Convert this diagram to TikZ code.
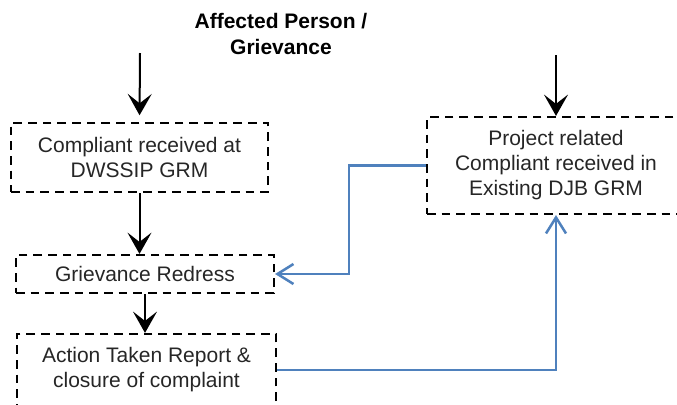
\documentclass[tikz,border=0pt]{standalone}
\usepackage{fontspec}
\setmainfont{Liberation Sans}
\usetikzlibrary{arrows.meta,positioning,calc}
\definecolor{linkblue}{RGB}{79,129,189}

\begin{document}
\begin{tikzpicture}
  [
  x=0.75pt, y=-0.75pt,
  font=\fontsize{15.75}{18.75}\selectfont, line width=1.5pt,
  stage/.style={rectangle, draw=black, dash pattern=on 6.5pt off 4.5pt, line width=1.6pt, align=center, inner sep=0pt, text=black!85},
  flow/.style={-{Stealth[length=16pt, width=18pt, inset=7pt]}, draw=black},
  link/.style={-{Straight Barb[length=12pt, width=15pt]}, draw=linkblue, line width=1.9pt}
  ]

\useasboundingbox (0,0) rectangle (677,404);

\node[align=center, font=\fontsize{15.75}{19.5}\selectfont\bfseries] (person) at (281,34) {Affected Person /\\Grievance};

\node[stage, minimum width=257*0.75pt, minimum height=69*0.75pt] (dwssip) at (139.5,157.5) {Compliant received at\\DWSSIP GRM};
\node[stage, minimum width=258*0.75pt, minimum height=38*0.75pt] (redress) at (145,274) {Grievance Redress};
\node[stage, minimum width=259*0.75pt, minimum height=72*0.75pt] (action) at (146.5,370) {Action Taken Report \&\\closure of complaint};
\node[stage, minimum width=258*0.75pt, minimum height=97*0.75pt] (djb) at (556,165.5) {Project related\\Compliant received in\\Existing DJB GRM};

\coordinate (in1) at (140,53);
\coordinate (in2) at (556,55);

\draw[flow, shorten >=5pt] (in1) -- (dwssip.north);
\draw[flow] (in2) -- (djb.north);
\draw[flow] (dwssip.south) -- (dwssip.south |- redress.north);
\draw[flow] (redress.south) -- (redress.south |- action.north);

\draw[link] (djb.west) -- ++(-77,0) |- (redress.east);
\draw[link] (action.east) -| (djb.south);

\end{tikzpicture}
\end{document}
